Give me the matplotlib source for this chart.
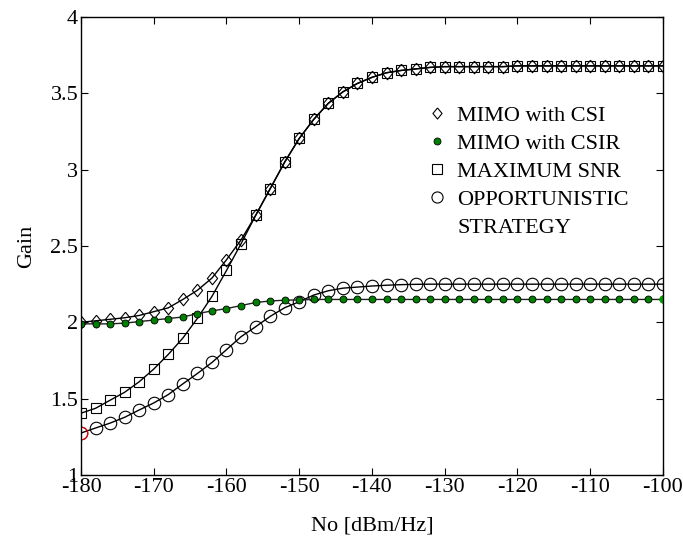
import matplotlib
matplotlib.use("Agg")
import matplotlib.pyplot as plt
import numpy as np
from matplotlib.lines import Line2D

plt.rcParams["font.family"] = ["Liberation Serif", "DejaVu Serif"]
plt.rcParams["font.size"] = 16
plt.rcParams["axes.unicode_minus"] = False

# Noise level axis, every 2 dBm/Hz
no_dbm = np.arange(-180, -99, 2)

# Gain curves
gain_csi = [2.0, 2.01, 2.02, 2.03, 2.045, 2.07, 2.095, 2.15, 2.21, 2.29,
            2.41, 2.54, 2.70, 2.875, 3.05, 3.205, 3.33, 3.435, 3.51, 3.565,
            3.605, 3.635, 3.65, 3.66, 3.67, 3.675, 3.675, 3.675, 3.675, 3.675,
            3.68, 3.68, 3.68, 3.68, 3.68, 3.68, 3.68, 3.68, 3.68, 3.68, 3.68]
gain_csir = [1.99, 1.99, 1.99, 1.995, 2.005, 2.015, 2.025, 2.035, 2.057, 2.075,
             2.09, 2.11, 2.13, 2.14, 2.145, 2.147, 2.15, 2.15, 2.15, 2.15,
             2.15, 2.15, 2.15, 2.15, 2.15, 2.15, 2.15, 2.15, 2.15, 2.15,
             2.15, 2.15, 2.15, 2.15, 2.15, 2.15, 2.15, 2.15, 2.15, 2.15, 2.15]
gain_maxsnr = [1.405, 1.437, 1.49, 1.542, 1.611, 1.694, 1.79, 1.897, 2.026, 2.17,
               2.34, 2.515, 2.70, 2.875, 3.05, 3.205, 3.33, 3.435, 3.51, 3.565,
               3.605, 3.635, 3.65, 3.66, 3.67, 3.675, 3.675, 3.675, 3.675, 3.675,
               3.68, 3.68, 3.68, 3.68, 3.68, 3.68, 3.68, 3.68, 3.68, 3.68, 3.68]
gain_opp = [1.275, 1.308, 1.34, 1.378, 1.426, 1.472, 1.527, 1.597, 1.665, 1.737,
            1.821, 1.906, 1.971, 2.039, 2.096, 2.135, 2.179, 2.207, 2.224, 2.231,
            2.238, 2.243, 2.247, 2.249, 2.25, 2.25, 2.25, 2.25, 2.25, 2.25,
            2.25, 2.25, 2.25, 2.25, 2.25, 2.25, 2.25, 2.25, 2.25, 2.25, 2.25]

labels = ["MIMO with CSI", "MIMO with CSIR", "MAXIMUM SNR", "OPPORTUNISTIC"]

# slightly narrow diamond like the original
diamond = [(0, 1), (0.82, 0), (0, -1), (-0.82, 0), (0, 1)]

fig = plt.figure(figsize=(6.83, 5.42), dpi=100)
ax = fig.add_axes([0.1186, 0.1236, 0.8521, 0.845])

ax.plot(no_dbm, gain_csi, color="black", lw=1, marker=diamond, ms=9,
        mfc="none", mec="black", mew=0.8)
ax.plot(no_dbm, gain_maxsnr, color="black", lw=1, marker="s", ms=7.5,
        mfc="none", mec="black", mew=0.8)
ax.plot(no_dbm, gain_opp, color="black", lw=1, marker="o", ms=9,
        mfc="none", mec="black", mew=0.8)
ax.plot(no_dbm, gain_csir, color="#222222", lw=1, marker="o", ms=5,
        mfc="green", mec="black", mew=0.6)

# highlighted endpoints
ax.plot(no_dbm[0], gain_opp[0], marker="o", ms=9, mfc="none", mec="red",
        mew=0.8, ls="none")
ax.plot(no_dbm[-1], gain_csir[-1], marker="o", ms=5, mfc="#00a000",
        mec="#00a000", ls="none")

ax.set_xlim(-180, -100)
ax.set_ylim(1, 4)
ax.set_xticks(np.arange(-180, -99, 10))
ax.set_yticks([1, 1.5, 2, 2.5, 3, 3.5, 4])
ax.set_yticklabels(["1", "1.5", "2", "2.5", "3", "3.5", "4"])
ax.tick_params(direction="in", top=True, right=True, length=5, width=0.8,
               pad=2, labelsize=16)
for sp in ax.spines.values():
    sp.set_linewidth(1)

ax.set_xlabel("No [dBm/Hz]", fontsize=16, labelpad=14)
ax.set_ylabel("Gain", fontsize=16, labelpad=10)

handles = [
    Line2D([], [], ls="none", marker=diamond, ms=8, mfc="none", mec="black", mew=0.8),
    Line2D([], [], ls="none", marker="o", ms=5, mfc="green", mec="black", mew=0.6),
    Line2D([], [], ls="none", marker="s", ms=7.5, mfc="none", mec="black", mew=0.8),
    Line2D([], [], ls="none", marker="o", ms=8, mfc="none", mec="black", mew=0.8),
    Line2D([], [], ls="none"),
]
ax.legend(handles, labels + ["STRATEGY"], loc="upper left",
          bbox_to_anchor=(0.574, 0.832), frameon=False, fontsize=16,
          handlelength=1.0, handletextpad=0.4, labelspacing=0.34,
          borderpad=0)

fig.savefig("out.png", dpi=100)
